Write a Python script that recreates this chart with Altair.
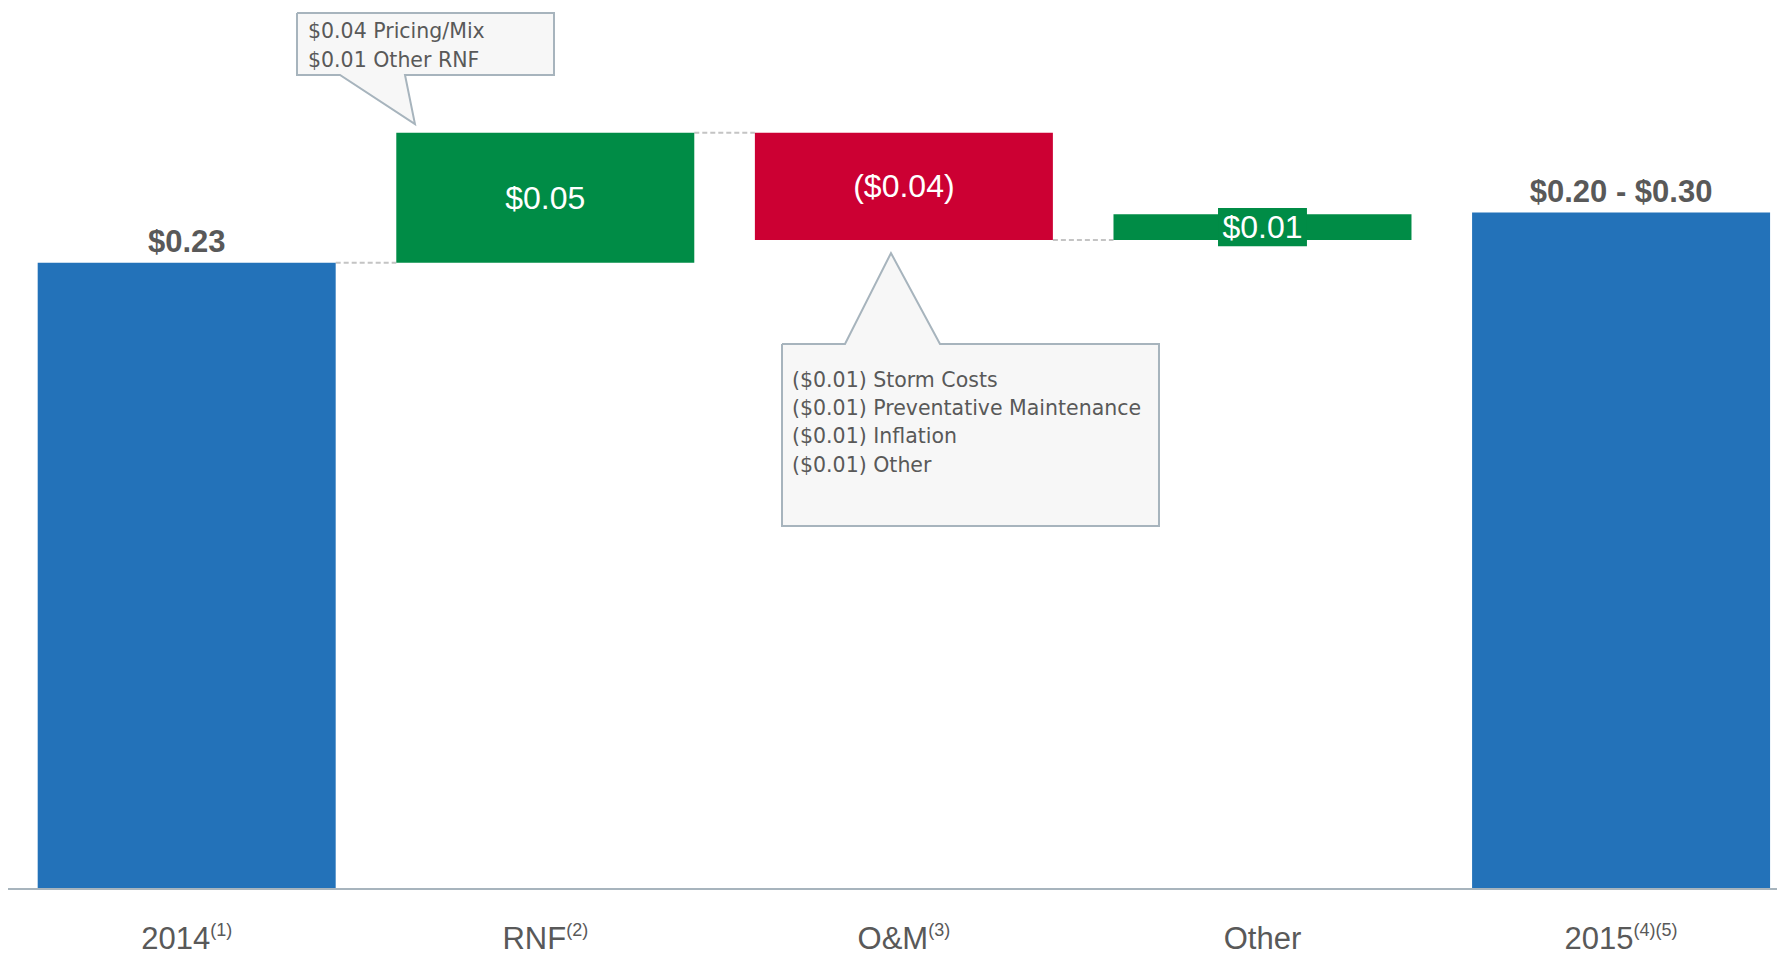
import altair as alt
import pandas as pd

# ---------------- data ----------------
categories = ["2014", "RNF", "O&M", "Other", "2015"]
footnotes = ["(1)", "(2)", "(3)", "", "(4)(5)"]
kinds = ["total", "delta", "delta", "delta", "total"]
values = [0.230, 0.0477, -0.0394, 0.0095, 0.2484]
value_labels = ["$0.23", "$0.05", "($0.04)", "$0.01", "$0.20 - $0.30"]

callout1_lines = ["$0.04 Pricing/Mix", "$0.01 Other RNF"]
callout2_lines = [
    "($0.01) Storm Costs",
    "($0.01) Preventative Maintenance",
    "($0.01) Inflation",
    "($0.01) Other",
]

# ---------------- layout / style constants ----------------
W, H = 1769, 881
XMIN, XMAX = -0.4983, 4.4348          # x in category units
YMAX = 0.3235
HW = 0.4155                            # half bar width (category units)
BLUE, GREEN, RED = "#2372b9", "#008c46", "#cc0033"
GREY = "#595959"
CALLOUT_STROKE, CALLOUT_FILL = "#a7b4bd", "#f7f7f7"
PX_PER_X = W / (XMAX - XMIN)

xs = alt.Scale(domain=[XMIN, XMAX], nice=False, zero=False)
ys = alt.Scale(domain=[0, YMAX], nice=False, zero=False)

# ---------------- waterfall table ----------------
rows = []
level = 0.0
for i, (c, k, v, lab) in enumerate(zip(categories, kinds, values, value_labels)):
    if k == "total":
        start, end = 0.0, v
    else:
        start, end = level, level + v
    level = end
    color = BLUE if k == "total" else (GREEN if v >= 0 else RED)
    rows.append(dict(idx=i, cat=c, kind=k, start=start, end=end,
                     lo=min(start, end), hi=max(start, end),
                     mid=(start + end) / 2, color=color, label=lab,
                     x0=i - HW, x1=i + HW))
df = pd.DataFrame(rows)

# connectors: from end of bar i to a following delta bar
conn = []
for i in range(len(rows) - 1):
    if rows[i + 1]["kind"] == "delta":
        conn.append(dict(x0=i + HW, x1=i + 1 - HW, lvl=rows[i]["end"]))
conn_df = pd.DataFrame(conn)

# small delta label background
small = df[(df["kind"] == "delta") & ((df["hi"] - df["lo"]) < 0.02)].copy()
small["bx0"] = small["idx"] - 0.124
small["bx1"] = small["idx"] + 0.124
small["by0"] = small["mid"] - 0.0070
small["by1"] = small["mid"] + 0.0070
small = small[["bx0", "bx1", "by0", "by1"]].reset_index(drop=True)

# ---------------- x labels with superscripts ----------------
ARIAL = {"0": .556, "1": .556, "2": .556, "3": .556, "4": .556, "5": .556,
         "6": .556, "7": .556, "8": .556, "9": .556, "(": .333, ")": .333,
         "R": .722, "N": .722, "F": .611, "O": .778, "&": .667, "M": .833,
         "t": .278, "h": .556, "e": .556, "r": .333}
MAIN_FS, SUP_FS = 31, 18


def tw(s, fs):
    return sum(ARIAL.get(ch, .556) for ch in s) * fs


lab_rows = []
for i, (c, f) in enumerate(zip(categories, footnotes)):
    m, s = tw(c, MAIN_FS), tw(f, SUP_FS)
    lab_rows.append(dict(idx=i, main=c, sup=f, lx=i + (m - s) / 2 / PX_PER_X))
lab_df = pd.DataFrame(lab_rows)

# ---------------- callouts (annotation geometry in data units) ----------------
def callout(name, box, base, tip, pointer_top):
    x0, x1, yt, yb = box
    b0, b1 = base
    tx, ty = tip
    if pointer_top:
        pts = [(x0, yt), (b0, yt), (tx, ty), (b1, yt), (x1, yt), (x1, yb), (x0, yb), (x0, yt)]
    else:
        pts = [(x0, yt), (x1, yt), (x1, yb), (b1, yb), (tx, ty), (b0, yb), (x0, yb), (x0, yt)]
    return [dict(shape=name, o=j, u=p[0], v=p[1]) for j, p in enumerate(pts)]


poly = callout("c1", (0.3076, 1.0243, 0.3217, 0.2989), (0.4275, 0.6088), (0.6366, 0.2809), False)
poly += callout("c2", (1.6601, 2.7114, 0.2001, 0.1333), (1.8358, 2.1007), (1.9640, 0.2335), True)
poly_df = pd.DataFrame(poly)

ctext = []
for j, t in enumerate(callout1_lines):
    ctext.append(dict(u=0.3383, v=0.3124 - j * 0.01045, t=t))
for j, t in enumerate(callout2_lines):
    ctext.append(dict(u=1.6880, v=0.1843 - j * 0.01035, t=t))
ctext_df = pd.DataFrame(ctext)

base_df = pd.DataFrame({"xa": [XMIN - 0.003], "xb": [XMAX], "yz": [0.0]})

# ---------------- layers ----------------
def X(f):
    return alt.X(f, scale=xs, axis=None)


def Y(f):
    return alt.Y(f, scale=ys, axis=None)


callouts = alt.Chart(poly_df).mark_line(
    fill=CALLOUT_FILL, stroke=CALLOUT_STROKE, strokeWidth=2, strokeJoin="miter"
).encode(x=X("u:Q"), y=Y("v:Q"), order="o:Q", detail="shape:N")

callout_text = alt.Chart(ctext_df).mark_text(
    align="left", baseline="alphabetic", font="DejaVu Sans", fontSize=20.5, color=GREY
).encode(x=X("u:Q"), y=Y("v:Q"), text="t:N")

connectors = alt.Chart(conn_df).mark_rule(
    strokeDash=[5, 3], color="#c4c4c4", strokeWidth=2
).encode(x=X("x0:Q"), x2="x1:Q", y=Y("lvl:Q"))

bars = alt.Chart(df).mark_bar().encode(
    x=X("x0:Q"), x2="x1:Q", y=Y("lo:Q"), y2="hi:Q",
    color=alt.Color("color:N", scale=None),
)

small_bg = alt.Chart(small).mark_bar(color=GREEN).encode(
    x=X("bx0:Q"), x2="bx1:Q", y=Y("by0:Q"), y2="by1:Q"
)

total_labels = alt.Chart(df[df["kind"] == "total"]).mark_text(
    baseline="alphabetic", dy=-11, font="Liberation Sans", fontWeight="bold",
    fontSize=31, color=GREY
).encode(x=X("idx:Q"), y=Y("end:Q"), text="label:N")

delta_labels = alt.Chart(df[df["kind"] == "delta"]).mark_text(
    baseline="middle", dy=1, font="Liberation Sans", fontSize=32, color="white"
).encode(x=X("idx:Q"), y=Y("mid:Q"), text="label:N")

baseline = alt.Chart(base_df).mark_rule(
    color=CALLOUT_STROKE, strokeWidth=2
).encode(x=X("xa:Q"), x2="xb:Q", y=Y("yz:Q"))

main_labels = alt.Chart(lab_df).mark_text(
    align="right", baseline="alphabetic", font="Liberation Sans",
    fontSize=MAIN_FS, color=GREY
).encode(x=X("lx:Q"), y=alt.value(H + 60), text="main:N")

sup_labels = alt.Chart(lab_df).mark_text(
    align="left", baseline="alphabetic", font="Liberation Sans",
    fontSize=SUP_FS, color=GREY
).encode(x=X("lx:Q"), y=alt.value(H + 47), text="sup:N")

chart = alt.layer(
    callouts, connectors, bars, small_bg, total_labels, delta_labels,
    baseline, main_labels, sup_labels, callout_text
).properties(
    width=W, height=H,
    autosize=alt.AutoSizeParams(type="none"),
    padding={"left": 0, "top": 0, "right": 0, "bottom": 70},
).configure_view(stroke=None)

chart.save("out.html", embed_options={"renderer": "svg", "actions": False})
